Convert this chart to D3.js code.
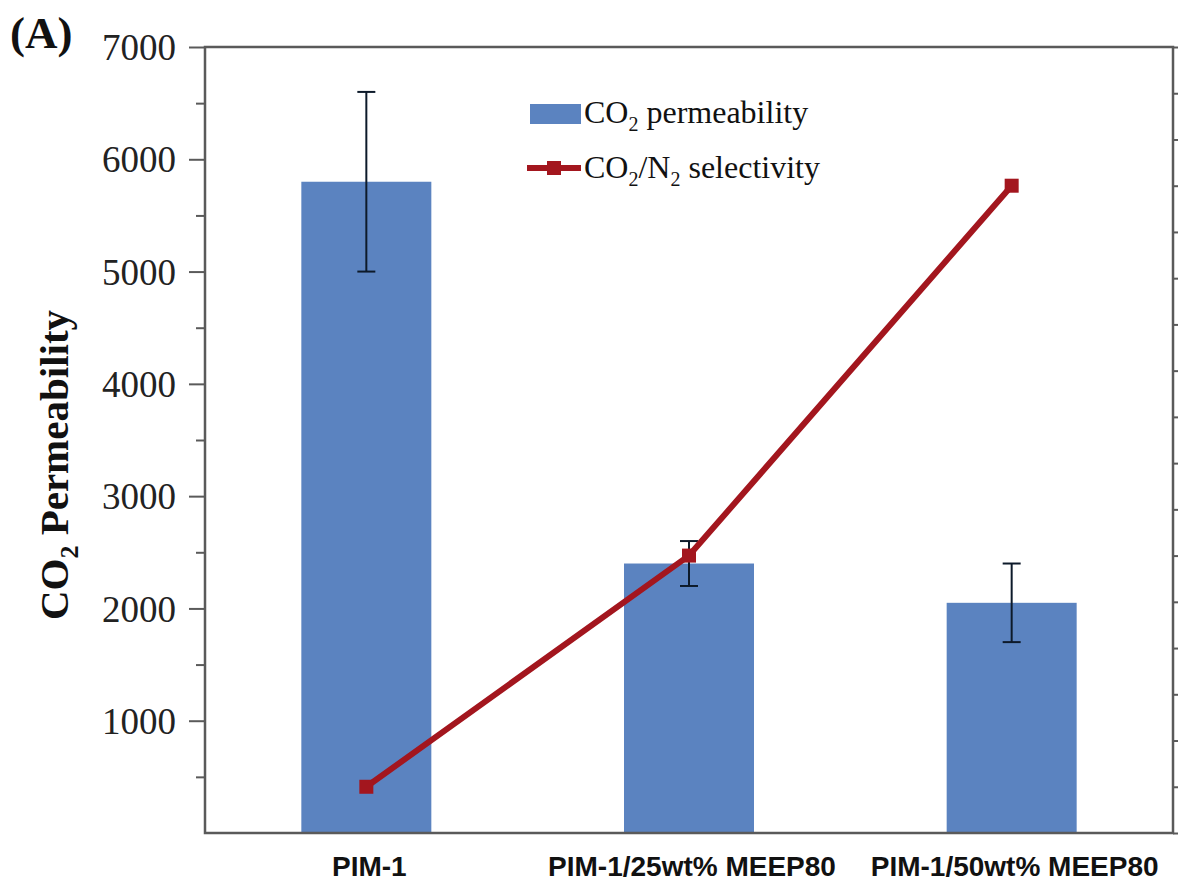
<!DOCTYPE html>
<html>
<head>
<meta charset="utf-8">
<script src="https://cdn.jsdelivr.net/npm/d3@7"></script>
<style>
  body { margin: 0; background: #fff; }
  svg { display: block; }
</style>
</head>
<body>
<div id="chart"></div>
<script>
// data
const categories = ["PIM-1", "PIM-1/25wt% MEEP80", "PIM-1/50wt% MEEP80"];
const permeability = [5800, 2400, 2050];
const permErrLow = [5000, 2200, 1700];
const permErrHigh = [6600, 2600, 2400];
// right axis labels are cut off in the figure, values are estimates
const selectivity = [12, 22, 38];
const leftTicks = [1000, 2000, 3000, 4000, 5000, 6000, 7000];

const width = 1178, height = 887;
const m = { left: 205, right: 1173, top: 47, bottom: 833 };

const svg = d3.select("#chart").append("svg")
  .attr("width", width)
  .attr("height", height);

const x = d3.scalePoint().domain(categories).range([m.left, m.right]).padding(0.5);
const y = d3.scaleLinear().domain([0, 7000]).range([m.bottom, m.top]);
const y2 = d3.scaleLinear().domain([10, 44]).range([m.bottom, m.top]);

const barW = 130;
const blue = "#5b83c0";
const red = "#a3161e";
const axisCol = "#5a5a5a";
const serif = "'Liberation Serif', 'Times New Roman', serif";

// bars
svg.selectAll("rect.bar").data(categories).enter().append("rect")
  .attr("class", "bar")
  .attr("x", d => x(d) - barW / 2)
  .attr("width", barW)
  .attr("y", (d, i) => y(permeability[i]))
  .attr("height", (d, i) => y(0) - y(permeability[i]))
  .attr("fill", blue);

// error bars
const eb = svg.append("g").attr("stroke", "#0d1a2a").attr("stroke-width", 2);
categories.forEach((c, i) => {
  eb.append("line").attr("x1", x(c)).attr("x2", x(c))
    .attr("y1", y(permErrLow[i])).attr("y2", y(permErrHigh[i]));
  [permErrLow[i], permErrHigh[i]].forEach(v => {
    eb.append("line").attr("x1", x(c) - 9).attr("x2", x(c) + 9)
      .attr("y1", y(v)).attr("y2", y(v));
  });
});

// selectivity line
const line = d3.line().x((d, i) => x(categories[i])).y(d => y2(d));
svg.append("path").datum(selectivity)
  .attr("d", line)
  .attr("fill", "none")
  .attr("stroke", red)
  .attr("stroke-width", 6);
svg.selectAll("rect.mk").data(selectivity).enter().append("rect")
  .attr("class", "mk")
  .attr("x", (d, i) => x(categories[i]) - 7)
  .attr("y", d => y2(d) - 7)
  .attr("width", 14).attr("height", 14)
  .attr("fill", red);

// axes
const leftAxis = d3.axisLeft(y).tickValues(d3.range(500, 7001, 500))
  .tickSize(0).tickFormat(d => leftTicks.includes(d) ? d : "");
const gl = svg.append("g").attr("transform", `translate(${m.left},0)`).call(leftAxis);
gl.select(".domain").remove();
gl.selectAll(".tick line").attr("x2", d => leftTicks.includes(d) ? -16 : -9)
  .attr("stroke", axisCol).attr("stroke-width", 2);
gl.selectAll(".tick text")
  .attr("x", -29)
  .attr("dy", "0.34em")
  .style("font-family", serif)
  .style("font-size", "37px")
  .attr("fill", "#222");

const rightAxis = d3.axisRight(y2).tickValues(d3.range(10, 45, 2)).tickSize(6).tickFormat("");
const gr = svg.append("g").attr("transform", `translate(${m.right},0)`).call(rightAxis);
gr.select(".domain").remove();
gr.selectAll(".tick line").attr("stroke", axisCol).attr("stroke-width", 2);

// frame
svg.append("rect")
  .attr("x", m.left).attr("y", m.top)
  .attr("width", m.right - m.left).attr("height", m.bottom - m.top)
  .attr("fill", "none").attr("stroke", axisCol).attr("stroke-width", 2.5);

// category labels
svg.selectAll("text.cat").data(categories).enter().append("text")
  .attr("class", "cat")
  .attr("x", d => x(d) + 3)
  .attr("y", 876)
  .attr("text-anchor", "middle")
  .style("font-family", "'Liberation Sans', Arial, sans-serif")
  .style("font-weight", "bold")
  .style("font-size", "28px")
  .attr("fill", "#111")
  .text(d => d);

// y label
const yl = svg.append("text")
  .attr("transform", "translate(68,465) rotate(-90)")
  .attr("text-anchor", "middle")
  .style("font-family", serif)
  .style("font-weight", "bold")
  .style("font-size", "41px")
  .attr("fill", "#111");
yl.append("tspan").text("CO");
yl.append("tspan").attr("dy", 10).style("font-size", "26px").text("2");
yl.append("tspan").attr("dy", -10).text(" Permeability");

// panel tag
svg.append("text")
  .attr("x", 10).attr("y", 48)
  .style("font-family", serif)
  .style("font-weight", "bold")
  .style("font-size", "45px")
  .attr("fill", "#111")
  .text("(A)");

// legend
const lg = svg.append("g").style("font-family", serif)
  .style("font-size", "32px").attr("fill", "#111");
lg.append("rect").attr("x", 530).attr("y", 104).attr("width", 51).attr("height", 20).attr("fill", blue);
const t1 = lg.append("text").attr("x", 584).attr("y", 123);
t1.append("tspan").text("CO");
t1.append("tspan").attr("dy", 8).style("font-size", "20px").text("2");
t1.append("tspan").attr("dy", -8).text(" permeability");

lg.append("line").attr("x1", 527).attr("x2", 581).attr("y1", 168).attr("y2", 168)
  .attr("stroke", red).attr("stroke-width", 6);
lg.append("rect").attr("x", 547).attr("y", 161).attr("width", 14).attr("height", 14).attr("fill", red);
const t2 = lg.append("text").attr("x", 584).attr("y", 178);
t2.append("tspan").text("CO");
t2.append("tspan").attr("dy", 8).style("font-size", "20px").text("2");
t2.append("tspan").attr("dy", -8).text("/N");
t2.append("tspan").attr("dy", 8).style("font-size", "20px").text("2");
t2.append("tspan").attr("dy", -8).text(" selectivity");
</script>
</body>
</html>
